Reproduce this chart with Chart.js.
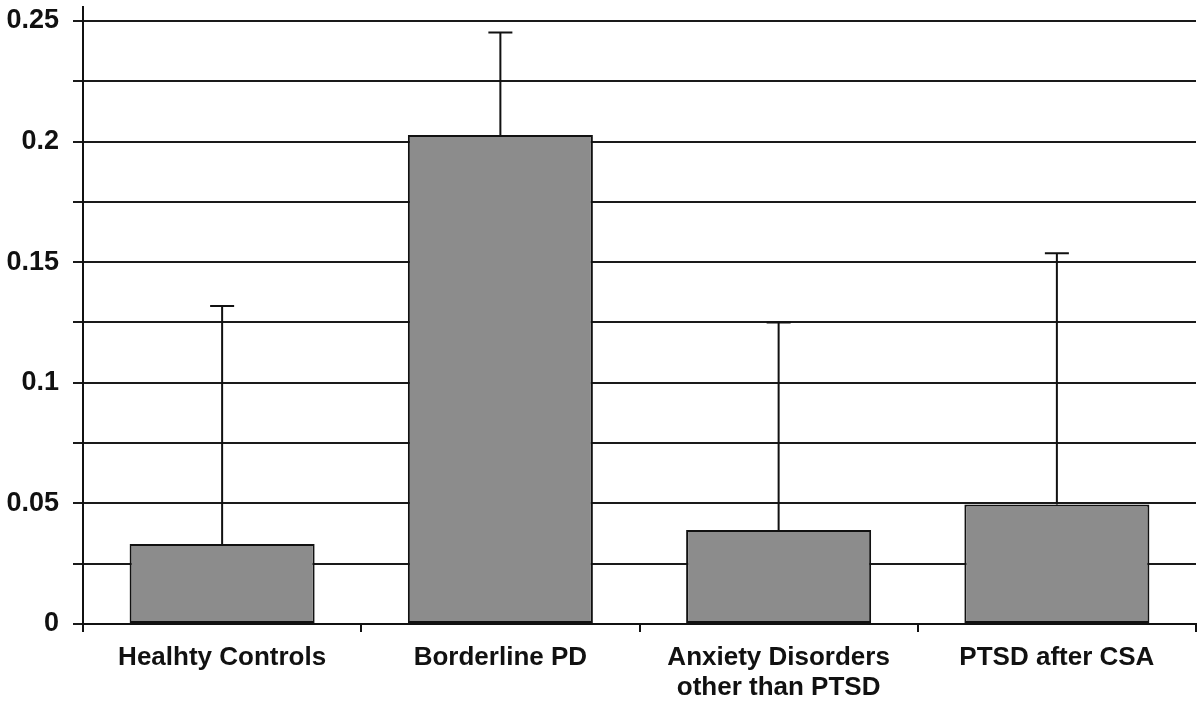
<!DOCTYPE html>
<html>
<head>
<meta charset="utf-8">
<script src="https://cdn.jsdelivr.net/npm/chart.js@4.4.0/dist/chart.umd.min.js"></script>
<style>
  html, body { margin: 0; padding: 0; background: #ffffff; }
  #wrap { width: 1200px; height: 705px; position: relative; }
</style>
</head>
<body>
<div id="wrap"><canvas id="c" width="1200" height="705"></canvas></div>
<script>
const categories = ["Healhty Controls", "Borderline PD", ["Anxiety Disorders", "other than PTSD"], "PTSD after CSA"];
const meanValues = [0.0332, 0.2027, 0.0390, 0.0495];
const errorUpper = [0.1318, 0.2452, 0.1250, 0.1537];
const yTickValues = [0, 0.025, 0.05, 0.075, 0.1, 0.125, 0.15, 0.175, 0.2, 0.225, 0.25];
const yTickLabels = ["0", "", "0.05", "", "0.1", "", "0.15", "", "0.2", "", "0.25"];

const FONT = '"Liberation Sans", Arial, Helvetica, sans-serif';

const errorBarPlugin = {
  id: 'errorBars',
  afterDatasetsDraw(chart) {
    const ctx = chart.ctx;
    const meta = chart.getDatasetMeta(0);
    const y = chart.scales.y;
    ctx.save();
    ctx.strokeStyle = '#111111';
    ctx.lineWidth = 2;
    meta.data.forEach((bar, i) => {
      const x = bar.x;
      const yTop = y.getPixelForValue(errorUpper[i]);
      const yBar = y.getPixelForValue(meanValues[i]);
      ctx.beginPath();
      ctx.moveTo(x, yBar);
      ctx.lineTo(x, yTop);
      ctx.moveTo(x - 12, yTop);
      ctx.lineTo(x + 12, yTop);
      ctx.stroke();
    });
    ctx.restore();
  }
};

new Chart(document.getElementById('c'), {
  type: 'bar',
  data: {
    labels: categories,
    datasets: [{
      data: meanValues,
      backgroundColor: '#8c8c8c',
      borderColor: '#111111',
      borderWidth: 2,
      borderSkipped: false,
      categoryPercentage: 1.0,
      barPercentage: 0.665
    }]
  },
  options: {
    responsive: false,
    animation: false,
    devicePixelRatio: 1,
    layout: { padding: { top: 7, right: 4, bottom: 0, left: 0 } },
    plugins: { legend: { display: false }, tooltip: { enabled: false } },
    scales: {
      x: {
        offset: true,
        grid: { display: true, offset: true, drawOnChartArea: false, drawTicks: true, tickLength: 8, color: '#111111', lineWidth: 2 },
        border: { display: true, color: '#111111', width: 2 },
        ticks: {
          color: '#111111',
          font: { family: FONT, size: 26, weight: 'bold', lineHeight: 1.15 },
          padding: 11,
          maxRotation: 0,
          autoSkip: false
        },
        afterFit(scale) {
          scale.height = 81;
          scale.paddingLeft = 0;
          scale.paddingRight = 0;
        }
      },
      y: {
        min: 0,
        max: 0.2558,
        grid: { display: true, drawTicks: true, tickLength: 10, color: '#1a1a1a', lineWidth: 2 },
        border: { display: true, color: '#111111', width: 2 },
        ticks: {
          color: '#111111',
          autoSkip: false,
          padding: 14,
          font: { family: FONT, size: 27, weight: 'bold', lineHeight: 1 },
          callback: function(value, index) { return yTickLabels[index]; }
        },
        afterBuildTicks(scale) {
          scale.ticks = yTickValues.map(v => ({ value: v }));
        },
        afterFit(scale) {
          scale.width = 83;
          scale.paddingTop = 0;
          scale.paddingBottom = 0;
        }
      }
    }
  },
  plugins: [errorBarPlugin]
});
</script>
</body>
</html>
